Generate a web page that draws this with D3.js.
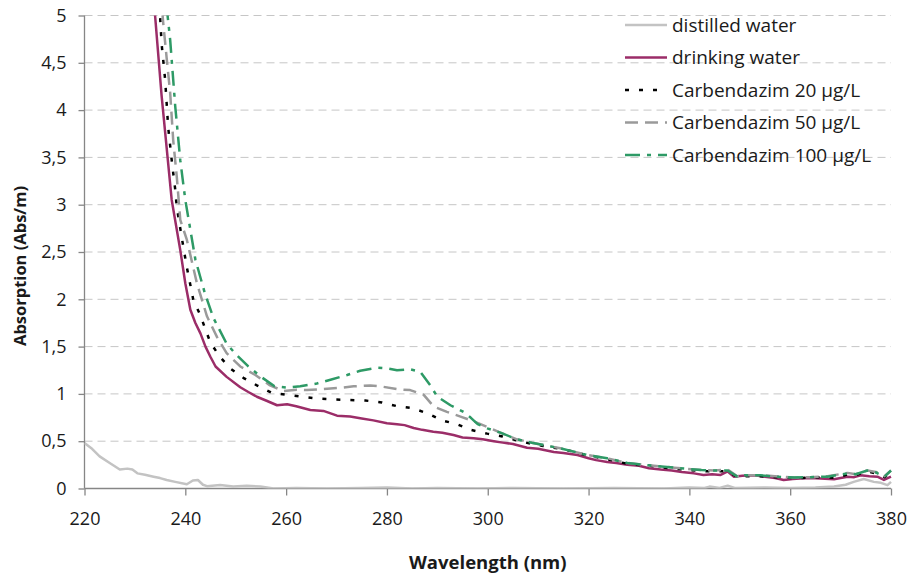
<!DOCTYPE html>
<html>
<head>
<meta charset="utf-8">
<script src="https://cdn.jsdelivr.net/npm/d3@7"></script>
<style>
  body { margin: 0; background: #fff; }
  text { font-family: "Open Sans", sans-serif; fill: #1a1a1a; }
</style>
</head>
<body>
<svg id="chart"></svg>
<script>
// y-axis ticks and x-axis ticks
var yTicks = [0, 0.5, 1, 1.5, 2, 2.5, 3, 3.5, 4, 4.5, 5];
var xTicks = [220, 240, 260, 280, 300, 320, 340, 360, 380];

// [wavelength nm, absorption Abs/m]
var distilledWater = [[220,0.48],[221.5,0.42],[223,0.34],[225,0.27],[227,0.2],[228.5,0.21],[229.5,0.2],[230.5,0.16],[232,0.145],[233.7,0.125],[235,0.11],[236.3,0.09],[238,0.07],[240.3,0.045],[241.5,0.085],[242.5,0.09],[243.5,0.04],[244.3,0.025],[246.9,0.037],[249.5,0.02],[252.2,0.03],[254.9,0.02],[257.5,0.0],[262,0.005],[268,0.0],[275,0.005],[280,0.01],[285,0.0],[290,0.005],[298,0.0],[305,0.005],[315,0.0],[325,0.005],[335,0.0],[340,0.01],[343,0.005],[344,0.02],[346,0.005],[347.6,0.03],[349,0.005],[355,0.01],[360,0.005],[365,0.01],[368.7,0.02],[371,0.04],[372.6,0.07],[374.6,0.1],[376.6,0.07],[378,0.06],[379.3,0.035],[380,0.07]];

var drinkingWater = [[232,6.3],[234,5.0],[235.3,4.15],[236.3,3.6],[237.3,3.05],[239,2.52],[240,2.17],[241,1.89],[242,1.75],[243,1.64],[244,1.5],[245,1.39],[246,1.29],[248.2,1.18],[250.9,1.07],[252.5,1.02],[254.2,0.97],[256,0.93],[258.2,0.88],[260.2,0.89],[262,0.87],[264.8,0.83],[267.4,0.82],[270.1,0.77],[272.7,0.76],[275,0.74],[277.3,0.72],[280,0.69],[282,0.68],[283.5,0.67],[285.3,0.64],[287,0.62],[289.2,0.6],[291,0.59],[293.2,0.565],[295,0.54],[297.2,0.53],[299,0.52],[301.2,0.5],[303,0.485],[305,0.47],[307.8,0.43],[310,0.42],[313.1,0.385],[315,0.375],[317.8,0.354],[320,0.32],[321.5,0.3],[323.7,0.28],[325.5,0.27],[327.7,0.25],[330,0.24],[332,0.215],[334.3,0.2],[336.5,0.19],[338.5,0.175],[340.9,0.16],[342.8,0.143],[344.5,0.15],[346.2,0.143],[347.6,0.18],[348.8,0.125],[350.5,0.135],[352.8,0.14],[355,0.125],[357,0.11],[358.7,0.09],[360.5,0.1],[362,0.105],[364,0.11],[366,0.105],[368.7,0.097],[370,0.11],[371.4,0.125],[372.7,0.12],[374,0.14],[375.7,0.13],[377.3,0.125],[378.6,0.09],[380,0.125]];

var carb20 = [[233,6.3],[235,4.99],[235.3,4.7],[236,4.32],[236.6,3.82],[237.3,3.47],[238,3.16],[238.3,2.98],[239.3,2.65],[240.3,2.34],[241.6,1.99],[243,1.83],[244,1.68],[245,1.54],[246.9,1.39],[248.9,1.27],[251.5,1.17],[254.2,1.09],[257.2,1.01],[260.2,0.99],[263.4,0.97],[266.4,0.95],[269.8,0.94],[272.7,0.935],[275.7,0.93],[279,0.91],[282,0.87],[285,0.85],[288,0.795],[290.9,0.72],[293.9,0.68],[296.6,0.62],[299.9,0.58],[302.9,0.55],[305,0.52],[308,0.48],[311,0.45],[314.4,0.42],[317,0.39],[319.7,0.35],[323.7,0.31],[327.7,0.26],[332,0.24],[337,0.21],[342.4,0.185],[345,0.18],[347.6,0.185],[349.5,0.12],[351,0.13],[354.1,0.13],[357,0.12],[360.8,0.11],[364,0.115],[367.4,0.12],[369,0.11],[371.4,0.15],[373,0.14],[375.3,0.18],[377,0.16],[378.7,0.12],[380,0.17]];

var carb50 = [[233.5,6.3],[235.6,4.93],[236.3,4.55],[237,4.18],[237.6,3.68],[238.3,3.3],[239,2.84],[240.3,2.63],[242.3,2.17],[244.3,1.82],[246.3,1.6],[248.2,1.43],[250.9,1.29],[253.9,1.2],[256.8,1.09],[259.5,1.03],[262.1,1.045],[264.1,1.04],[266.8,1.05],[270.8,1.065],[273.4,1.08],[276.7,1.09],[278.7,1.08],[282,1.05],[284.6,1.04],[287.3,0.99],[289.3,0.865],[291.9,0.81],[294.6,0.76],[297.2,0.71],[299.9,0.65],[302.5,0.59],[305.8,0.52],[309,0.48],[314.4,0.425],[319.7,0.354],[323.7,0.32],[327.7,0.27],[332,0.245],[337,0.22],[342.4,0.195],[345,0.19],[347.6,0.2],[349.5,0.13],[351,0.14],[354.1,0.14],[357,0.13],[360.8,0.115],[364,0.12],[367.4,0.13],[371.4,0.165],[373,0.15],[375.3,0.19],[377,0.175],[378.7,0.13],[380,0.19]];

var carb100 = [[234,6.5],[236.5,4.99],[237,4.74],[238,4.04],[239,3.47],[240,3.05],[242,2.42],[243.9,2.06],[245.6,1.8],[248.2,1.53],[250.2,1.41],[252.5,1.29],[255.3,1.17],[257.7,1.08],[260.2,1.066],[262.8,1.08],[266.1,1.11],[268.8,1.15],[272.1,1.2],[274.7,1.245],[278,1.277],[280,1.27],[282,1.25],[284.6,1.26],[286.6,1.235],[288.6,1.09],[290,0.97],[292.6,0.88],[295.2,0.81],[296.6,0.75],[298,0.68],[299.9,0.636],[302.5,0.59],[305.8,0.52],[309,0.48],[314.4,0.425],[319.7,0.354],[323.7,0.32],[327.7,0.27],[332,0.245],[337,0.22],[342.4,0.195],[345,0.19],[347.6,0.19],[349.5,0.125],[351,0.14],[354.1,0.14],[357,0.125],[360.8,0.115],[364,0.12],[367.4,0.125],[371.4,0.16],[373,0.15],[375.3,0.19],[377,0.17],[378.7,0.125],[380,0.19]];

var seriesNames = ['distilled water', 'drinking water', 'Carbendazim 20 µg/L', 'Carbendazim 50 µg/L', 'Carbendazim 100 µg/L'];
var seriesData = [distilledWater, drinkingWater, carb20, carb50, carb100];

var styles = [
	{ color: '#c3c3c3', width: 2.5, dash: null },
	{ color: '#9b2d68', width: 2.5, dash: null },
	{ color: '#000000', width: 2.5, dash: '4,10' },
	{ color: '#9a9a9a', width: 2.5, dash: '13,7' },
	{ color: '#2e9a66', width: 2.5, dash: '15,7,4,7' }
];

var dims = {
	width: 910,
	height: 576,
	left: 84.5,
	right: 891,
	top: 15.5,
	bottom: 488.5
};

var svg = d3.select('#chart')
	.attr('width', dims.width)
	.attr('height', dims.height);

var x = d3.scaleLinear().domain([220, 380]).range([dims.left, dims.right]);
var y = d3.scaleLinear().domain([0, 5]).range([dims.bottom, dims.top]);

svg.append('defs').append('clipPath').attr('id', 'plotclip')
	.append('rect')
	.attr('x', dims.left)
	.attr('y', dims.top)
	.attr('width', dims.right - dims.left + 2)
	.attr('height', dims.bottom - dims.top);

// gridlines
svg.append('g').selectAll('line')
	.data(yTicks.filter(d => d > 0))
	.enter().append('line')
	.attr('x1', dims.left)
	.attr('x2', dims.right)
	.attr('y1', d => y(d))
	.attr('y2', d => y(d))
	.attr('stroke', '#c6c6c6')
	.attr('stroke-width', 1)
	.attr('stroke-dasharray', '8,5');

// axes
var yAxis = d3.axisLeft(y).tickValues(yTicks).tickSize(6).tickPadding(12)
	.tickFormat(d => String(d).replace('.', ','));
var xAxis = d3.axisBottom(x).tickValues(xTicks).tickSize(7).tickPadding(17)
	.tickFormat(d3.format('d'));

var gy = svg.append('g').attr('transform', 'translate(' + dims.left + ',0)').call(yAxis);
var gx = svg.append('g').attr('transform', 'translate(0,' + dims.bottom + ')').call(xAxis);

[gx, gy].forEach(function(g) {
	g.select('.domain').attr('stroke', '#868686').attr('stroke-width', 1.3);
	g.selectAll('.tick line').attr('stroke', '#868686').attr('stroke-width', 1.3);
	g.selectAll('.tick text').attr('font-size', 18).attr('fill', '#1a1a1a')
		.attr('font-family', '"Open Sans", sans-serif');
});
gy.select('.domain').attr('d', 'M0,' + dims.top + 'V' + dims.bottom);
gx.select('.domain').attr('d', 'M' + dims.left + ',0H' + dims.right);

// series lines
var line = d3.line().x(d => x(d[0])).y(d => y(d[1]));
var plot = svg.append('g').attr('clip-path', 'url(#plotclip)');

seriesData.forEach(function(s, i) {
	plot.append('path')
		.datum(s)
		.attr('d', line)
		.attr('fill', 'none')
		.attr('stroke', styles[i].color)
		.attr('stroke-width', styles[i].width)
		.attr('stroke-linejoin', 'round')
		.attr('stroke-dasharray', styles[i].dash);
});

// axis titles
svg.append('text')
	.attr('x', (dims.left + dims.right) / 2)
	.attr('y', 569)
	.attr('text-anchor', 'middle')
	.attr('font-size', 18.5)
	.attr('font-weight', 'bold')
	.text('Wavelength (nm)');

svg.append('text')
	.attr('transform', 'translate(25.5,266) rotate(-90)')
	.attr('text-anchor', 'middle')
	.attr('font-size', 16.5)
	.attr('font-weight', 'bold')
	.text('Absorption (Abs/m)');

// legend
var legend = svg.append('g').attr('transform', 'translate(625,25)');
seriesNames.forEach(function(name, i) {
	var row = legend.append('g').attr('transform', 'translate(0,' + (i * 32.5) + ')');
	row.append('line')
		.attr('x1', 0).attr('x2', 42)
		.attr('y1', 0).attr('y2', 0)
		.attr('stroke', styles[i].color)
		.attr('stroke-width', styles[i].width)
		.attr('stroke-dasharray', styles[i].dash);
	row.append('text')
		.attr('x', 47)
		.attr('y', 0)
		.attr('dy', '0.35em')
		.attr('font-size', 19)
		.text(name);
});
</script>
</body>
</html>
